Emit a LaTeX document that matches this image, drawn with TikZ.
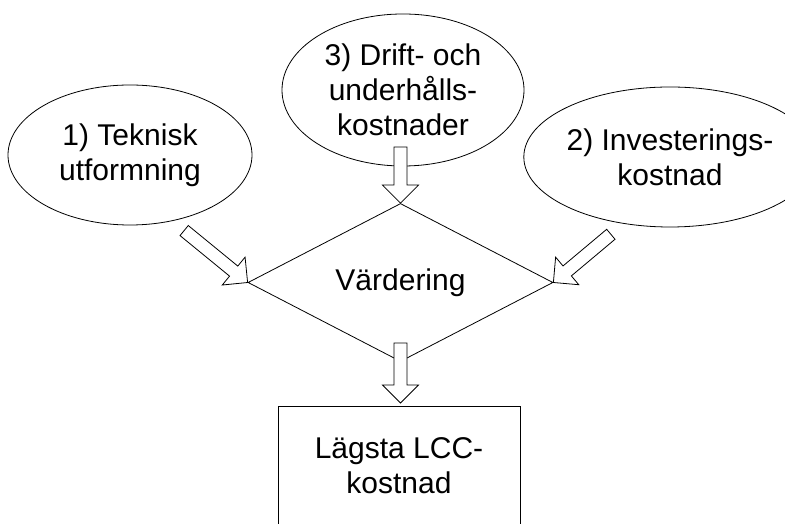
\documentclass[tikz,border=0pt]{standalone}
\usepackage{fontspec}
\setmainfont{Liberation Sans}
\usetikzlibrary{shapes.geometric}
\tikzset{
  lw/.style={line width=0.8pt},
  oval/.style={ellipse, draw, lw, inner sep=0pt, align=center, fill=white},
  rhomb/.style={diamond, draw, lw, inner sep=0pt, align=center, minimum width=305pt, minimum height=121pt},
  rectbox/.style={rectangle, draw, lw, inner sep=0pt, align=center, minimum width=242pt, minimum height=119pt},
  blk/.style={draw, lw, fill=white, line join=miter}
}
\newcommand\blockarrow[3]{%
  \draw[blk, shift={(#1)}, rotate=#2]
    (0,0) -- (-18,18) -- (-18,6.5) -- (-#3,6.5) -- (-#3,-6.5) -- (-18,-6.5) -- (-18,-18) -- cycle;}
\begin{document}
\begin{tikzpicture}[x=1pt, y=1pt, font=\fontsize{30}{35}\selectfont]
\useasboundingbox (0,0) rectangle (785,524);
\clip (0,0) rectangle (785,524);
\node[oval, minimum width=244pt, minimum height=140pt] (tek) at (130,369) {1) Teknisk\\utformning};
\node[oval, minimum width=242pt, minimum height=152pt] (drift) at (403,434) {3) Drift- och\\underhålls-\\kostnader};
\node[oval, minimum width=236pt, minimum height=140pt] (inv) at (670,367) {2) Investerings-\\kostnad};
\node[rhomb] (vard) at (400.5,241.5) {Värdering};
\node[rectbox] (lcc) at (399,58.5) {Lägsta LCC-\\kostnad};
\coordinate (lccin) at (400.5,121);
\blockarrow{vard.north}{-90}{56}
\blockarrow{lccin}{-90}{60}
\blockarrow{vard.west}{-39.3}{82}
\blockarrow{vard.east}{-140}{75}
\end{tikzpicture}
\end{document}
